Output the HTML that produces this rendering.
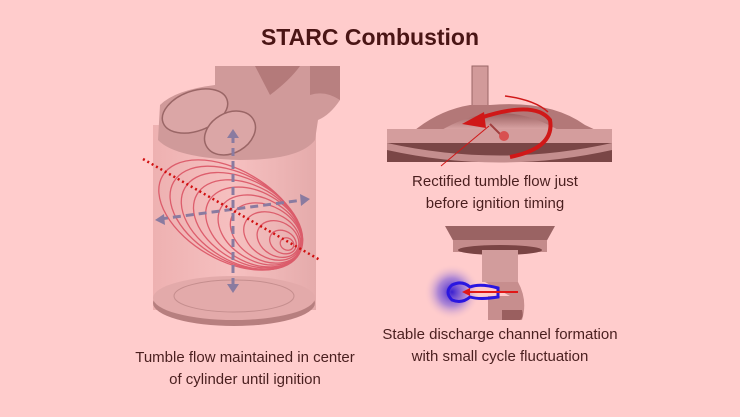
<!DOCTYPE html>
<html><head><style>
html,body{margin:0;padding:0;background:#ffcccc;}
body{width:740px;height:417px;overflow:hidden;position:relative;font-family:"Liberation Sans",sans-serif;color:#4a1f1f;}
.t{position:absolute;text-align:center;white-space:nowrap;}
</style></head><body>
<svg width="740" height="417" style="position:absolute;left:0;top:0">
<defs>
<linearGradient id="cyl" x1="0" x2="1"><stop offset="0" stop-color="#e8a8a8"/><stop offset=".5" stop-color="#f3bcbc"/><stop offset="1" stop-color="#dca0a0"/></linearGradient>
<linearGradient id="dome" x1="0" x2="0" y1="0" y2="1"><stop offset="0" stop-color="#9a6060"/><stop offset="1" stop-color="#e0aaaa"/></linearGradient>
<radialGradient id="glow"><stop offset="0" stop-color="#3a1fd0"/><stop offset=".5" stop-color="#8c6ad8" stop-opacity=".7"/><stop offset="1" stop-color="#ffcccc" stop-opacity="0"/></radialGradient>
</defs>
<rect x="153" y="125" width="163" height="185" fill="url(#cyl)" opacity=".75"/>
<ellipse cx="234" cy="303" rx="81" ry="23" fill="#b77f7f"/>
<ellipse cx="234" cy="298" rx="81" ry="22" fill="#e3aaaa"/>
<ellipse cx="234" cy="296" rx="60" ry="16" fill="none" stroke="#c58e8e"/>
<path d="M215 66 L340 66 L340 100 Q330 115 318 120 L315 140 Q300 160 240 160 Q175 158 158 140 L160 105 Q175 90 215 85 Z" fill="#d09a9a"/>
<path d="M255 66 L300 66 Q290 80 270 95 Z" fill="#b47a7a"/>
<path d="M310 66 L340 66 L340 100 Q325 90 310 95 Z" fill="#b88080"/>
<ellipse cx="195" cy="111" rx="34" ry="20" transform="rotate(-20 195 111)" fill="#dba6a6" stroke="#9a6666" stroke-width="1.5"/>
<ellipse cx="230" cy="133" rx="27" ry="20" transform="rotate(-30 230 133)" fill="#dba6a6" stroke="#9a6666" stroke-width="1.5"/>
<g fill="none" stroke="#d8485a" stroke-width="1.3" opacity=".8">
<ellipse cx="230" cy="215" rx="78" ry="45" transform="rotate(30 230 215)"/>
<ellipse cx="236" cy="218" rx="72" ry="43" transform="rotate(30 236 218)"/>
<ellipse cx="242" cy="221" rx="66" ry="41" transform="rotate(30 242 221)"/>
<ellipse cx="248" cy="224" rx="59" ry="38" transform="rotate(30 248 224)"/>
<ellipse cx="254" cy="227" rx="52" ry="35" transform="rotate(30 254 227)"/>
<ellipse cx="260" cy="230" rx="45" ry="31" transform="rotate(30 260 230)"/>
<ellipse cx="266" cy="233" rx="38" ry="27" transform="rotate(30 266 233)"/>
<ellipse cx="272" cy="236" rx="30" ry="22" transform="rotate(30 272 236)"/>
<ellipse cx="278" cy="239" rx="22" ry="17" transform="rotate(30 278 239)"/>
<ellipse cx="283" cy="242" rx="14" ry="11" transform="rotate(30 283 242)"/>
<ellipse cx="287" cy="244" rx="7" ry="6" transform="rotate(30 287 244)"/>
</g>
<g stroke="#8a7ba0" stroke-width="3" stroke-dasharray="8,5">
<line x1="233" y1="135" x2="233" y2="285"/>
<line x1="160" y1="219" x2="303" y2="200"/>
</g>
<g fill="#8a7ba0"><polygon points="227,138 239,138 233,129"/><polygon points="227,284 239,284 233,293"/><polygon points="164,214 165,225 155,220"/><polygon points="300,194 301,206 310,199"/></g>
<line x1="143" y1="159" x2="320" y2="260" stroke="#d01010" stroke-width="2.5" stroke-dasharray="2,3"/>
<rect x="472" y="66" width="16" height="45" fill="#d29a9a" stroke="#9a6666"/>
<path d="M415 130 Q440 110 470 105 L490 105 Q550 100 585 125 L600 132 L405 132 Z" fill="#b37878"/>
<path d="M440 131 Q500 95 560 131 Z" fill="url(#dome)"/>
<rect x="387" y="129" width="225" height="14" fill="#d49d9d"/>
<path d="M387 143 L612 143 L612 162 L387 162 Z" fill="#7a4646"/>
<path d="M387 143 Q500 168 612 143 L612 150 Q500 175 387 150 Z" fill="#c48e8e"/>
<path d="M510 157 Q555 148 550 120 Q535 100 480 118" fill="none" stroke="#d01818" stroke-width="4"/>
<polygon points="462,124 484,112 486,128" fill="#d01818"/>
<path d="M505 96 Q535 100 548 112" fill="none" stroke="#d01818" stroke-width="1.5"/>
<line x1="490" y1="124" x2="502" y2="136" stroke="#a04040" stroke-width="2"/>
<circle cx="504" cy="136" r="5" fill="#d85050"/>
<line x1="489" y1="126" x2="441" y2="166" stroke="#d01818" stroke-width="1"/>
<path d="M445 226 L555 226 L545 244 L455 244 Z" fill="#9a6363"/>
<rect x="453" y="240" width="94" height="12" fill="#c48b8b"/>
<ellipse cx="500" cy="250" rx="42" ry="5" fill="#7a4444"/>
<rect x="482" y="250" width="36" height="32" fill="#d29c9c"/>
<polygon points="494,282 506,282 500,292" fill="#a87070"/>
<path d="M485 282 L518 282 Q528 300 522 320 L488 320 L488 296 L510 296 Z" fill="#c78e8e"/>
<path d="M502 310 L522 310 Q524 318 520 320 L502 320 Z" fill="#9a5f5f"/>
<circle cx="452" cy="292" r="28" fill="url(#glow)"/>
<path d="M452 285 Q462 280 470 287 Q480 283 498 288 L498 297 Q480 300 470 297 Q462 304 452 300 Q444 292 452 285 Z" fill="none" stroke="#2a16e0" stroke-width="3"/>
<line x1="518" y1="292" x2="465" y2="292" stroke="#e01818" stroke-width="2"/>
<polygon points="462,292 470,288 470,296" fill="#e01818"/>
</svg>
<div class="t" style="left:0;width:740px;top:24px;font-size:23px;font-weight:bold;color:#4a1515">STARC Combustion</div>
<div class="t" style="left:395px;width:200px;top:171px;font-size:15px;line-height:22px">Rectified tumble flow just<br>before ignition timing</div>
<div class="t" style="left:360px;width:280px;top:324px;font-size:15px;line-height:22px">Stable discharge channel formation<br>with small cycle fluctuation</div>
<div class="t" style="left:95px;width:300px;top:347px;font-size:15px;line-height:22px">Tumble flow maintained in center<br>of cylinder until ignition</div>
</body></html>
